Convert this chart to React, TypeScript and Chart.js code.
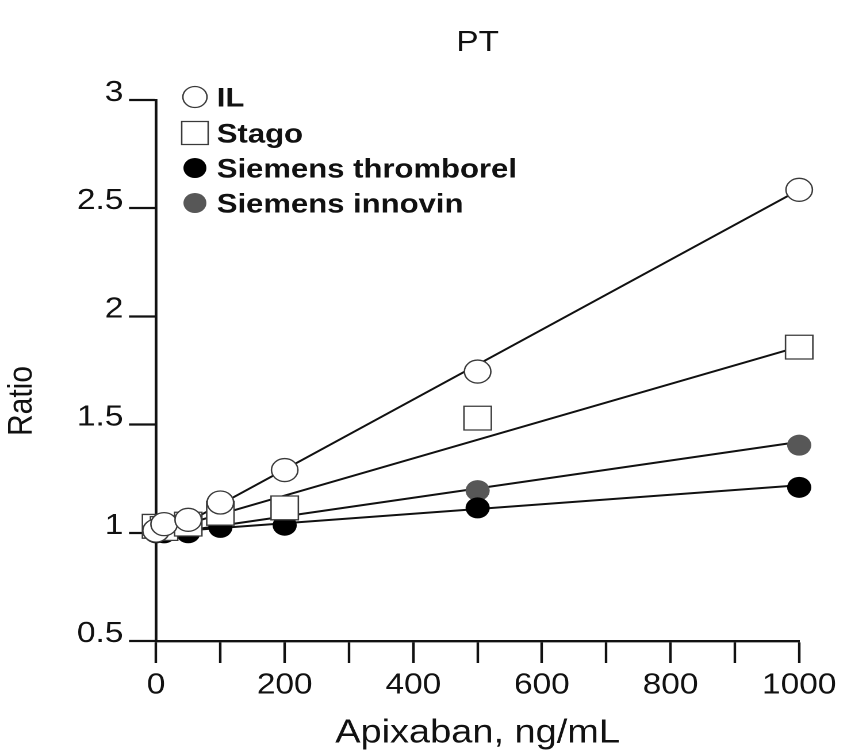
import { useEffect, useRef } from 'react';
import { Chart, registerables } from 'chart.js';

Chart.register(...registerables);

// ---------- data ----------
const doses = [0, 12.5, 50, 100, 200, 500, 1000];
const ilRatio = [1.01, 1.04, 1.06, 1.14, 1.29, 1.745, 2.585];
const stagoRatio = [1.03, 1.02, 1.04, 1.09, 1.115, 1.53, 1.858];
const thromborelRatio = [1.0, 1.0, 1.0, 1.025, 1.035, 1.115, 1.21];
const innovinRatio = [1.0, 1.0, 1.02, 1.05, 1.08, 1.195, 1.405];

// regression lines (end points)
const fitX = [0, 1000];
const ilFit = [0.97, 2.585];
const stagoFit = [1.0, 1.86];
const thromborelFit = [1.0, 1.22];
const innovinFit = [0.99, 1.42];

const seriesNames = ['IL', 'Stago', 'Siemens thromborel', 'Siemens innovin'];
const xLabelled = [0, 200, 400, 600, 800, 1000];
const yLabelled = [0.5, 1, 1.5, 2, 2.5, 3];

const titleText = 'PT';
const xTitle = 'Apixaban, ng/mL';
const yTitle = 'Ratio';

// ---------- layout ----------
const SX = 1.15;
const W = 842 / SX;
const H = 753;
const FONT = "'Liberation Sans', Arial, Helvetica, sans-serif";
const INK = '#111111';

const pts = (ys: number[]) => doses.map((d, i) => ({ x: d, y: ys[i] }));
const fit = (ys: number[]) => fitX.map((d, i) => ({ x: d, y: ys[i] }));

const legendPlugin = {
  id: 'insetLegend',
  afterDraw(chart: any) {
    const ctx = chart.ctx as CanvasRenderingContext2D;
    ctx.save();
    const x0 = 169.5;
    const tx = 188.5;
    const ys = [97, 133, 168, 203];
    for (let i = 0; i < 4; i++) {
      const ds = chart.data.datasets[i];
      const y = ys[i];
      ctx.beginPath();
      if (ds.pointStyle === 'rect') {
        ctx.rect(x0 - 11.5, y - 11.5, 23, 23);
      } else {
        ctx.arc(x0, y, i < 1 ? 10.5 : 10, 0, Math.PI * 2);
      }
      ctx.fillStyle = ds.pointBackgroundColor;
      ctx.fill();
      if (ds.pointBorderWidth > 0) {
        ctx.lineWidth = ds.pointBorderWidth;
        ctx.strokeStyle = ds.pointBorderColor;
        ctx.stroke();
      }
      ctx.fillStyle = INK;
      ctx.font = `bold 27px ${FONT}`;
      ctx.textBaseline = 'middle';
      ctx.textAlign = 'left';
      ctx.fillText(seriesNames[i], tx, y + 2);
    }
    // y-axis title
    ctx.save();
    ctx.translate(19, 401);
    ctx.rotate(-Math.PI / 2);
    ctx.font = `30px ${FONT}`;
    ctx.textAlign = 'center';
    ctx.textBaseline = 'middle';
    ctx.fillStyle = INK;
    ctx.fillText(yTitle, 0, 0);
    ctx.restore();
    ctx.restore();
  },
};

export default function App() {
  const ref = useRef<HTMLCanvasElement | null>(null);

  useEffect(() => {
    if (!ref.current) return;
    const openStyle = {
      pointBackgroundColor: '#ffffff',
      pointBorderColor: '#3a3a3a',
      pointBorderWidth: 1.3,
    };
    const chart = new Chart(ref.current, {
      type: 'scatter',
      data: {
        datasets: [
          {
            label: seriesNames[0],
            data: pts(ilRatio),
            pointStyle: 'circle',
            pointRadius: 11.5,
            ...openStyle,
            clip: false,
            order: 0,
          },
          {
            label: seriesNames[1],
            data: pts(stagoRatio),
            pointStyle: 'rect',
            pointRadius: 16.8,
            ...openStyle,
            clip: false,
            order: 0,
          },
          {
            label: seriesNames[2],
            data: pts(thromborelRatio),
            pointStyle: 'circle',
            pointRadius: 10.5,
            pointBackgroundColor: '#000000',
            pointBorderColor: '#000000',
            pointBorderWidth: 0,
            clip: false,
            order: 0,
          },
          {
            label: seriesNames[3],
            data: pts(innovinRatio),
            pointStyle: 'circle',
            pointRadius: 10.5,
            pointBackgroundColor: '#575757',
            pointBorderColor: '#575757',
            pointBorderWidth: 0,
            clip: false,
            order: 0,
          },
          ...[ilFit, stagoFit, thromborelFit, innovinFit].map((f, i) => ({
            label: seriesNames[i] + ' fit',
            data: fit(f),
            showLine: true,
            borderColor: '#111111',
            borderWidth: 2,
            pointRadius: 0,
            clip: false,
            order: 1,
          })),
        ],
      } as any,
      options: {
        animation: false,
        responsive: true,
        maintainAspectRatio: false,
        devicePixelRatio: 2,
        events: [],
        layout: { padding: { left: 0, right: 34.8, top: 0, bottom: 0 } },
        plugins: {
          legend: { display: false },
          tooltip: { enabled: false },
          title: {
            display: true,
            fullSize: false,
            text: titleText,
            color: INK,
            font: { family: FONT, size: 29, weight: 'normal' },
            padding: { top: 25.6, bottom: 39.6 },
          },
        },
        scales: {
          x: {
            type: 'linear',
            min: 0,
            max: 1000,
            afterFit: (s: any) => {
              s.height = 112;
            },
            ticks: {
              stepSize: 100,
              autoSkip: false,
              maxRotation: 0,
              color: INK,
              padding: 5,
              font: { family: FONT, size: 29 },
              callback: (v: any) => (xLabelled.includes(Number(v)) ? String(v) : ''),
            },
            grid: {
              drawOnChartArea: false,
              drawTicks: true,
              tickLength: 22,
              tickColor: INK,
              tickWidth: 2.2,
            },
            border: { display: true, color: INK, width: 2.4 },
            title: {
              display: true,
              text: xTitle,
              color: INK,
              font: { family: FONT, size: 33 },
              padding: { top: 4, bottom: 0 },
            },
          },
          y: {
            type: 'linear',
            min: 0.5,
            max: 3,
            afterFit: (s: any) => {
              s.width = 135.7;
            },
            ticks: {
              stepSize: 0.5,
              autoSkip: false,
              color: INK,
              padding: 5,
              labelOffset: -7,
              font: { family: FONT, size: 29 },
              callback: (v: any) => (yLabelled.includes(Number(v)) ? String(v) : ''),
            },
            grid: {
              drawOnChartArea: false,
              drawTicks: true,
              tickLength: 23.5,
              tickColor: INK,
              tickWidth: 2.2,
            },
            border: { display: true, color: INK, width: 2.4 },
            title: { display: false },
          },
        },
      } as any,
      plugins: [legendPlugin],
    });
    return () => chart.destroy();
  }, []);

  return (
    <div
      style={{
        position: 'fixed',
        left: 0,
        top: 0,
        width: 842,
        height: H,
        overflow: 'hidden',
        background: '#ffffff',
      }}
    >
      <div
        style={{
          width: W,
          height: H,
          transform: `scaleX(${SX})`,
          transformOrigin: '0 0',
        }}
      >
        <canvas ref={ref} />
      </div>
    </div>
  );
}
